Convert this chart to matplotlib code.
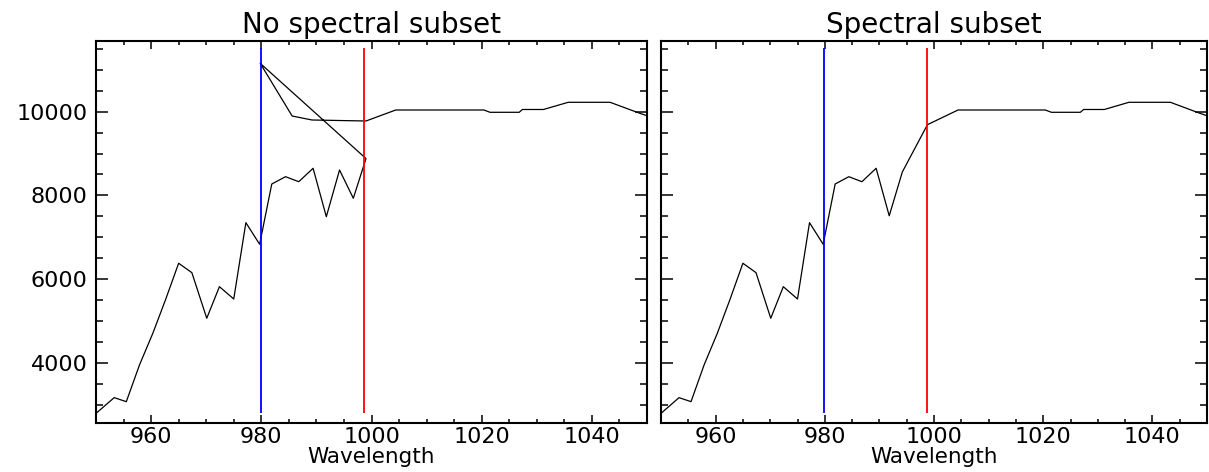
import matplotlib
matplotlib.use("Agg")
import matplotlib.pyplot as plt
from matplotlib.ticker import MultipleLocator

plt.rcParams['font.family'] = ['DejaVu Sans']

# ---- data ----
# detector 1 (short-wave part)
det1_wl = [950.0, 953.3, 955.5, 957.9, 960.3, 962.6, 965.0, 967.4, 970.1, 972.4,
           975.0, 977.2, 979.7, 981.9, 984.4, 986.8, 989.4, 991.8, 994.2, 996.7, 999.0]
det1_val = [2790, 3166, 3070, 3950, 4700, 5500, 6378, 6153, 5063, 5818,
            5524, 7348, 6832, 8272, 8447, 8327, 8648, 7491, 8607, 7931, 8880]
# detector 2 (long-wave part)
det2_wl = [979.8, 985.6, 989.2, 999.0, 1004.4, 1020.4, 1021.5, 1026.8, 1027.4,
           1031.2, 1035.7, 1043.3, 1048.7, 1051.0]
det2_val = [11157, 9897, 9802, 9778, 10041, 10041, 9986, 9986, 10053,
            10053, 10225, 10225, 9962, 9860]

# spectral subset: detector 1 up to 994.2, detector 2 from 999.0
subset_wl = [950.0, 953.3, 955.5, 957.9, 960.3, 962.6, 965.0, 967.4, 970.1, 972.4,
             975.0, 977.2, 979.7, 981.9, 984.4, 986.8, 989.4, 991.8, 994.2,
             998.8, 1004.4, 1020.4, 1021.5, 1026.8, 1027.4, 1031.2, 1035.7,
             1043.3, 1048.7, 1051.0]
subset_val = [2790, 3166, 3070, 3950, 4700, 5500, 6378, 6153, 5063, 5818,
              5524, 7348, 6832, 8272, 8447, 8327, 8648, 7512, 8560,
              9690, 10041, 10041, 9986, 9986, 10053, 10053, 10225,
              10225, 9962, 9860]

blue_wl = 979.9
red_wl = 998.7
marker_range = [2790, 11515]

titles = ["No spectral subset", "Spectral subset"]
xlabel = "Wavelength"
xlim = (950, 1050)
ylim = (2560, 11690)

W, H = 1209, 472
fig = plt.figure(figsize=(W / 100, H / 100), dpi=100)
ax1 = fig.add_axes([96 / W, 1 - 423 / H, 551 / W, 382 / H])
ax2 = fig.add_axes([661 / W, 1 - 423 / H, 546 / W, 382 / H])

for i, ax in enumerate([ax1, ax2]):
    if i == 0:
        ax.plot(det1_wl + det2_wl, det1_val + det2_val, color='black', lw=0.9)
    else:
        ax.plot(subset_wl, subset_val, color='black', lw=0.9)
    ax.vlines(blue_wl, marker_range[0], marker_range[1], color='#0000ff', lw=1.3)
    ax.vlines(red_wl, marker_range[0], marker_range[1], color='#ff0000', lw=1.3)
    ax.set_xlim(*xlim)
    ax.set_ylim(*ylim)
    ax.xaxis.set_major_locator(MultipleLocator(20))
    ax.xaxis.set_minor_locator(MultipleLocator(5))
    ax.yaxis.set_major_locator(MultipleLocator(2000))
    ax.yaxis.set_minor_locator(MultipleLocator(500))
    ax.tick_params(which='both', direction='in', top=True, right=True,
                   width=1.1, color='black', labelsize=16)
    ax.tick_params(axis='x', which='major', length=5.8, pad=3.0)
    ax.tick_params(axis='x', which='minor', length=3.2)
    ax.tick_params(axis='y', which='major', length=8.6, pad=6.0)
    ax.tick_params(axis='y', which='minor', length=5.0)
    for sp in ax.spines.values():
        sp.set_linewidth(1.5)
    ax.set_title(titles[i], fontsize=20, pad=5.5)
    ax.set_xlabel(xlabel, fontsize=15.5, labelpad=0)
    if i == 1:
        ax.tick_params(labelleft=False)

fig.savefig("out.png", dpi=100)
